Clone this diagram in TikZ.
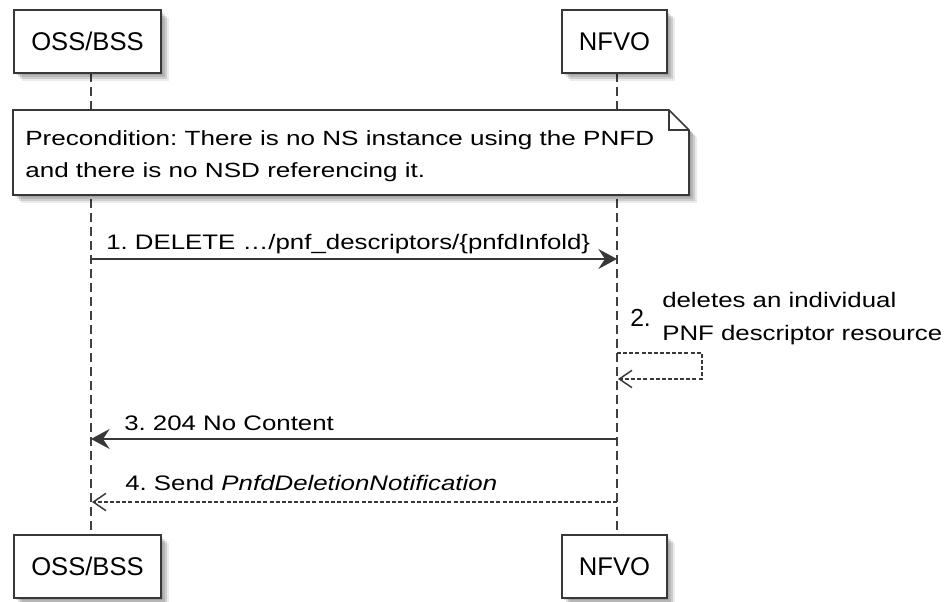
\documentclass[tikz,border=0pt]{standalone}
\usepackage{fontspec}
\setmainfont{Liberation Sans}
\newfontfamily\partfont{Liberation Sans}
\newfontfamily\notefont[FakeStretch=1.27]{Liberation Sans}
\newfontfamily\lblfont[FakeStretch=1.23]{Liberation Sans}
\usetikzlibrary{arrows.meta}
\definecolor{ln}{HTML}{383838}
\definecolor{lifec}{HTML}{404040}
\frenchspacing
\begin{document}
\begin{tikzpicture}[x=0.75pt,y=-0.75pt,
  shadowed/.style={
    preaction={fill=black,opacity=.10,transform canvas={shift={(2,2)}}},
    preaction={fill=black,opacity=.12,transform canvas={shift={(4,4)}}},
    preaction={fill=black,opacity=.12,transform canvas={shift={(6,6)}}},
    preaction={fill=black,opacity=.08,transform canvas={shift={(8,8)}}}},
  pbox/.style={shadowed,draw=ln,line width=1.5pt,fill=white,inner sep=0pt,
    minimum height=47.5pt,font=\partfont\fontsize{19.2}{23}\selectfont},
  lifeline/.style={draw=lifec,line width=0.8pt,dash pattern=on 6.5pt off 4pt},
  msg/.style={draw=ln,line width=1.1pt,-{Stealth[length=14pt,width=15pt,inset=5pt]}},
  rmsg/.style={draw=ln,line width=1.1pt,dash pattern=on 3pt off 1.6pt,
    -{Straight Barb[length=9.5pt,width=13pt,line width=1.1pt]}},
  lbl/.style={anchor=base west,inner sep=0pt,font=\lblfont\fontsize{15.75}{19}\selectfont\frenchspacing},
  notetext/.style={anchor=base west,inner sep=0pt,font=\notefont\fontsize{15.4}{19}\selectfont\frenchspacing}]
\useasboundingbox (0,0) rectangle (946,602);

% lifelines
\coordinate (ossLT) at (91,73);
\coordinate (ossLB) at (91,534);
\coordinate (nfvoLT) at (617,73);
\coordinate (nfvoLB) at (617,534);
\draw[lifeline] (ossLT) -- (ossLB);
\draw[lifeline] (nfvoLT) -- (nfvoLB);

% participants
\node[pbox,minimum width=110.5pt] (ossTop) at (87.5,41.5) {OSS/BSS};
\node[pbox,minimum width=78.75pt] (nfvoTop) at (614.5,41.5) {NFVO};
\node[pbox,minimum width=110.5pt] (ossBot) at (87.5,566.5) {OSS/BSS};
\node[pbox,minimum width=78.75pt] (nfvoBot) at (614.5,566.5) {NFVO};

% note
\path[shadowed,draw=ln,line width=1.3pt,fill=white,line join=miter]
  (13,110) -- (669,110) -- (689,130) -- (689,195) -- (13,195) -- cycle;
\draw[ln,line width=1.1pt] (669,110) -- (669,130) -- (689,130);
\node[notetext] (noteA) at (25,145.5) {Precondition: There is no NS instance using the PNFD};
\node[notetext] (noteB) at (25,178) {and there is no NSD referencing it.};

% message 1
\coordinate (m1s) at (91,259);
\coordinate (m1e) at (617,259);
\draw[msg] (m1s) -- (m1e);
\node[lbl] (l1) at (106,250) {1. DELETE \ldots/pnf\_descriptors/\{pnfdInfold\}};

% message 2 (self)
\coordinate (m2s) at (617,353);
\coordinate (m2a) at (702,353);
\coordinate (m2b) at (702,379);
\coordinate (m2e) at (618,379);
\draw[rmsg] (m2s) -- (m2a) -- (m2b) -- (m2e);
\node[anchor=base west,inner sep=0pt,font=\partfont\fontsize{18.5}{22}\selectfont] (l2n) at (630,326.5) {2.};
\node[lbl] (l2a) at (662,308) {deletes an individual};
\node[lbl] (l2b) at (662,340) {PNF descriptor resource};

% message 3
\coordinate (m3s) at (617,439);
\coordinate (m3e) at (91,439);
\draw[msg] (m3s) -- (m3e);
\node[lbl] (l3) at (124,430) {3. 204 No Content};

% message 4
\coordinate (m4s) at (617,502);
\coordinate (m4e) at (92,502);
\draw[rmsg] (m4s) -- (m4e);
\node[lbl] (l4) at (125,490) {4. Send \textit{PnfdDeletionNotification}};
\end{tikzpicture}
\end{document}
